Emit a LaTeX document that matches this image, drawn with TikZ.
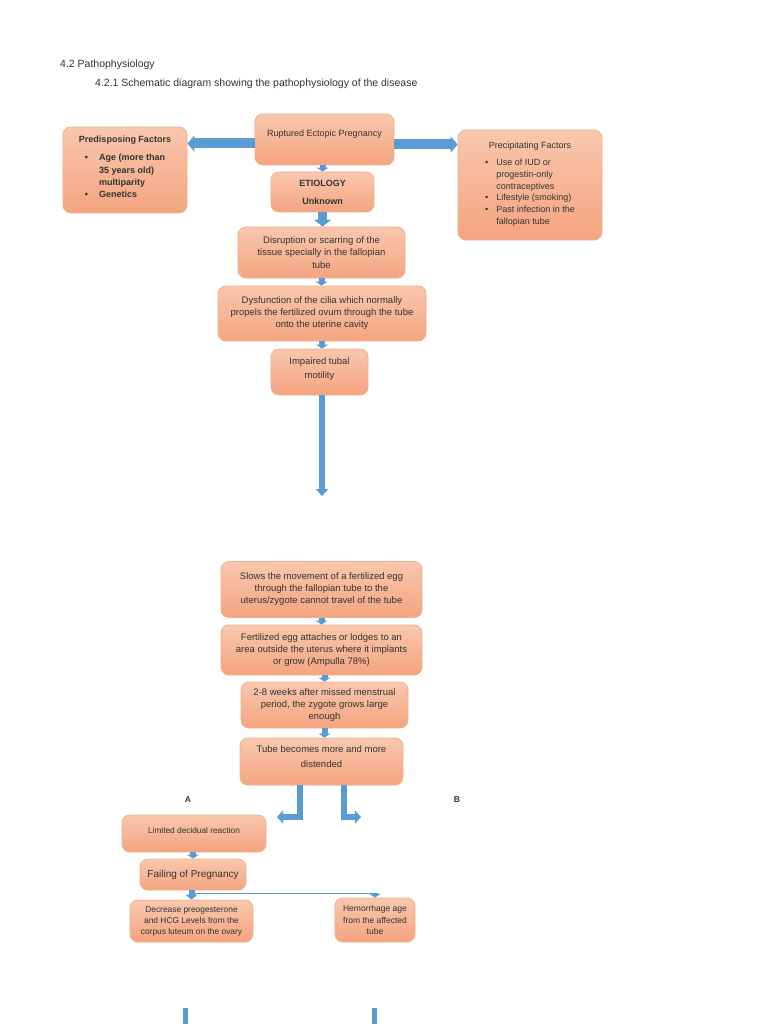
\documentclass[tikz,border=0pt]{standalone}
\usepackage{fontspec}
\setmainfont{Liberation Sans}
\usetikzlibrary{arrows.meta}
\definecolor{boxtop}{HTML}{F9C7AE}
\definecolor{boxbot}{HTML}{F4A47F}
\definecolor{boxline}{HTML}{F2AE8A}
\definecolor{arrblue}{HTML}{5B9BD5}
\definecolor{txt}{HTML}{333333}
\tikzset{
  box/.style={draw=boxline, line width=0.8pt, rounded corners=8pt,
    top color=boxtop, bottom color=boxbot, align=center, text=txt,
    inner sep=2pt, font=\fontsize{9.5}{12}\selectfont},
  blk/.style n args={3}{draw=arrblue, line width=#1,
    -{Triangle[width=#2,length=#3]}},
  thinblue/.style={draw=arrblue, line width=1.2pt},
  hdr/.style={anchor=west, text=txt, font=\fontsize{10.5}{12}\selectfont, inner sep=0pt},
  lab/.style={text=txt, font=\bfseries\fontsize{8.5}{10}\selectfont, inner sep=0pt}
}
\begin{document}
\begin{tikzpicture}[x=1pt,y=-1pt]
\useasboundingbox (0,0) rectangle (768,1024);
\fill[white] (0,0) rectangle (768,1024);

% headers
\node[hdr] (h1) at (60,65) {4.2 Pathophysiology};
\node[hdr] (h2) at (95,84) {4.2.1 Schematic diagram showing the pathophysiology of the disease};

% top boxes
\node[box, minimum width=139pt, minimum height=51pt, font=\fontsize{9}{12}\selectfont] (rup) at (324.5,139.5)
  {Ruptured Ectopic Pregnancy\\[1pt]\mbox{}};
\node[box, minimum width=124pt, minimum height=86pt, font=\bfseries\fontsize{9}{12.3}\selectfont] (pre) at (125,170)
  {Predisposing Factors\\[7pt]
   \begin{tabular}{@{}l@{\hspace{11pt}}l@{}}
   \textbullet & Age (more than\\
    & 35 years old)\\
    & multiparity\\
   \textbullet & Genetics
   \end{tabular}\\[2pt]\mbox{}};
\node[box, minimum width=144pt, minimum height=110pt, font=\fontsize{9}{11.8}\selectfont] (prec) at (530,185)
  {Precipitating Factors\\[6pt]
   \begin{tabular}{@{}l@{\hspace{8pt}}l@{}}
   \textbullet & Use of IUD or\\
    & progestin-only\\
    & contraceptives\\
   \textbullet & Lifestyle (smoking)\\
   \textbullet & Past infection in the\\
    & fallopian tube
   \end{tabular}};
\node[box, minimum width=103pt, minimum height=40pt, font=\bfseries\fontsize{9}{12}\selectfont] (eti) at (322.5,192)
  {ETIOLOGY\\[6pt]Unknown};
\node[box, minimum width=167pt, minimum height=51pt, font=\fontsize{9.5}{12.5}\selectfont] (dis) at (321.5,252.5)
  {Disruption or scarring of the\\ tissue specially in the fallopian\\ tube};
\node[box, minimum width=208pt, minimum height=55pt] (dys) at (322,313.5)
  {Dysfunction of the cilia which normally\\ propels the fertilized ovum through the tube\\ onto the uterine cavity};
\node[box, minimum width=97pt, minimum height=46pt, font=\fontsize{9.5}{13.5}\selectfont] (imp) at (319.5,372)
  {Impaired tubal\\ motility\\[-6pt]\mbox{}};
\coordinate (longend) at (322,496);

% middle boxes
\node[box, minimum width=201pt, minimum height=56pt] (slo) at (321.5,589.5)
  {Slows the movement of a fertilized egg\\ through the fallopian tube to the\\ uterus/zygote cannot travel of the tube};
\node[box, minimum width=201pt, minimum height=50pt] (fer) at (321.5,650)
  {Fertilized egg attaches or lodges to an\\ area outside the uterus where it implants\\ or grow (Ampulla 78\%)};
\node[box, minimum width=167pt, minimum height=46pt] (wk) at (324.5,705)
  {2-8 weeks after missed menstrual\\ period, the zygote grows large\\ enough};
\node[box, minimum width=163pt, minimum height=47pt, font=\fontsize{9.5}{14.5}\selectfont] (tube) at (321.5,761.5)
  {Tube becomes more and more\\ distended\\[-5pt]\mbox{}};

\coordinate (la) at (277,817);
\coordinate (ra) at (361,817);

\node[lab] (A) at (188,800) {A};
\node[lab] (B) at (457,800) {B};

% lower boxes
\node[box, minimum width=144pt, minimum height=37pt, font=\fontsize{8.3}{10}\selectfont] (lim) at (194,833.5)
  {Limited decidual reaction\\[-3pt]\mbox{}};
\node[box, minimum width=106pt, minimum height=31pt, font=\fontsize{10}{12}\selectfont] (fail) at (193,874.5)
  {Failing of Pregnancy};
\node[box, minimum width=123pt, minimum height=42pt, font=\fontsize{8.4}{11}\selectfont] (dec) at (191.5,921)
  {Decrease preogesterone\\ and HCG Levels from the\\ corpus luteum on the ovary};
\node[box, minimum width=80pt, minimum height=44pt, font=\fontsize{8.5}{11.5}\selectfont] (hem) at (375,920)
  {Hemorrhage age\\ from the affected\\ tube};

\coordinate (s1a) at (185,1008);
\coordinate (s1b) at (185,1024);
\coordinate (s2a) at (374,1008);
\coordinate (s2b) at (374,1024);

% connectors
\draw[blk={10pt}{16pt}{7pt}] ([yshift=-4pt]rup.west) -- ([yshift=-4pt]rup.west -| pre.east);
\draw[blk={10pt}{16pt}{7pt}] ([yshift=-5pt]rup.east) -- ([yshift=-5pt]rup.east -| prec.west);
\draw[blk={6pt}{12pt}{4pt}] (rup.south -| eti.north) -- (eti.north);
\draw[blk={9pt}{17pt}{7pt}] (eti.south) -- (eti.south |- dis.north);
\draw[blk={6pt}{12pt}{4pt}] (dis.south) -- (dis.south |- dys.north);
\draw[blk={6pt}{12pt}{4pt}] (dys.south) -- (dys.south |- imp.north);
\draw[blk={6pt}{12pt}{7pt}] (imp.south -| longend) -- (longend);

\draw[blk={6pt}{12pt}{4pt}] (slo.south) -- (slo.south |- fer.north);
\draw[blk={6pt}{12pt}{4pt}] (fer.south -| wk.north) -- (wk.north);
\draw[blk={6pt}{12pt}{4pt}] (wk.south) -- (wk.south |- tube.north);

\draw[blk={6pt}{13pt}{6pt}] ([xshift=-22pt]tube.south) |- (la);
\draw[blk={6pt}{13pt}{6pt}] ([xshift=22pt]tube.south) |- (ra);

\draw[blk={6pt}{12pt}{4pt}] (lim.south -| fail.north) -- (fail.north);
\draw[thinblue] ([yshift=-3pt]fail.south -| dec.north) -| ([yshift=4pt]hem.north);
\draw[blk={6pt}{12pt}{5pt}] (fail.south -| dec.north) -- (dec.north);
\draw[blk={6pt}{12pt}{4pt}] ([yshift=5pt]hem.north) -- (hem.north);

\draw[draw=arrblue, line width=5pt] (s1a) -- (s1b);
\draw[draw=arrblue, line width=5pt] (s2a) -- (s2b);
\end{tikzpicture}
\end{document}
